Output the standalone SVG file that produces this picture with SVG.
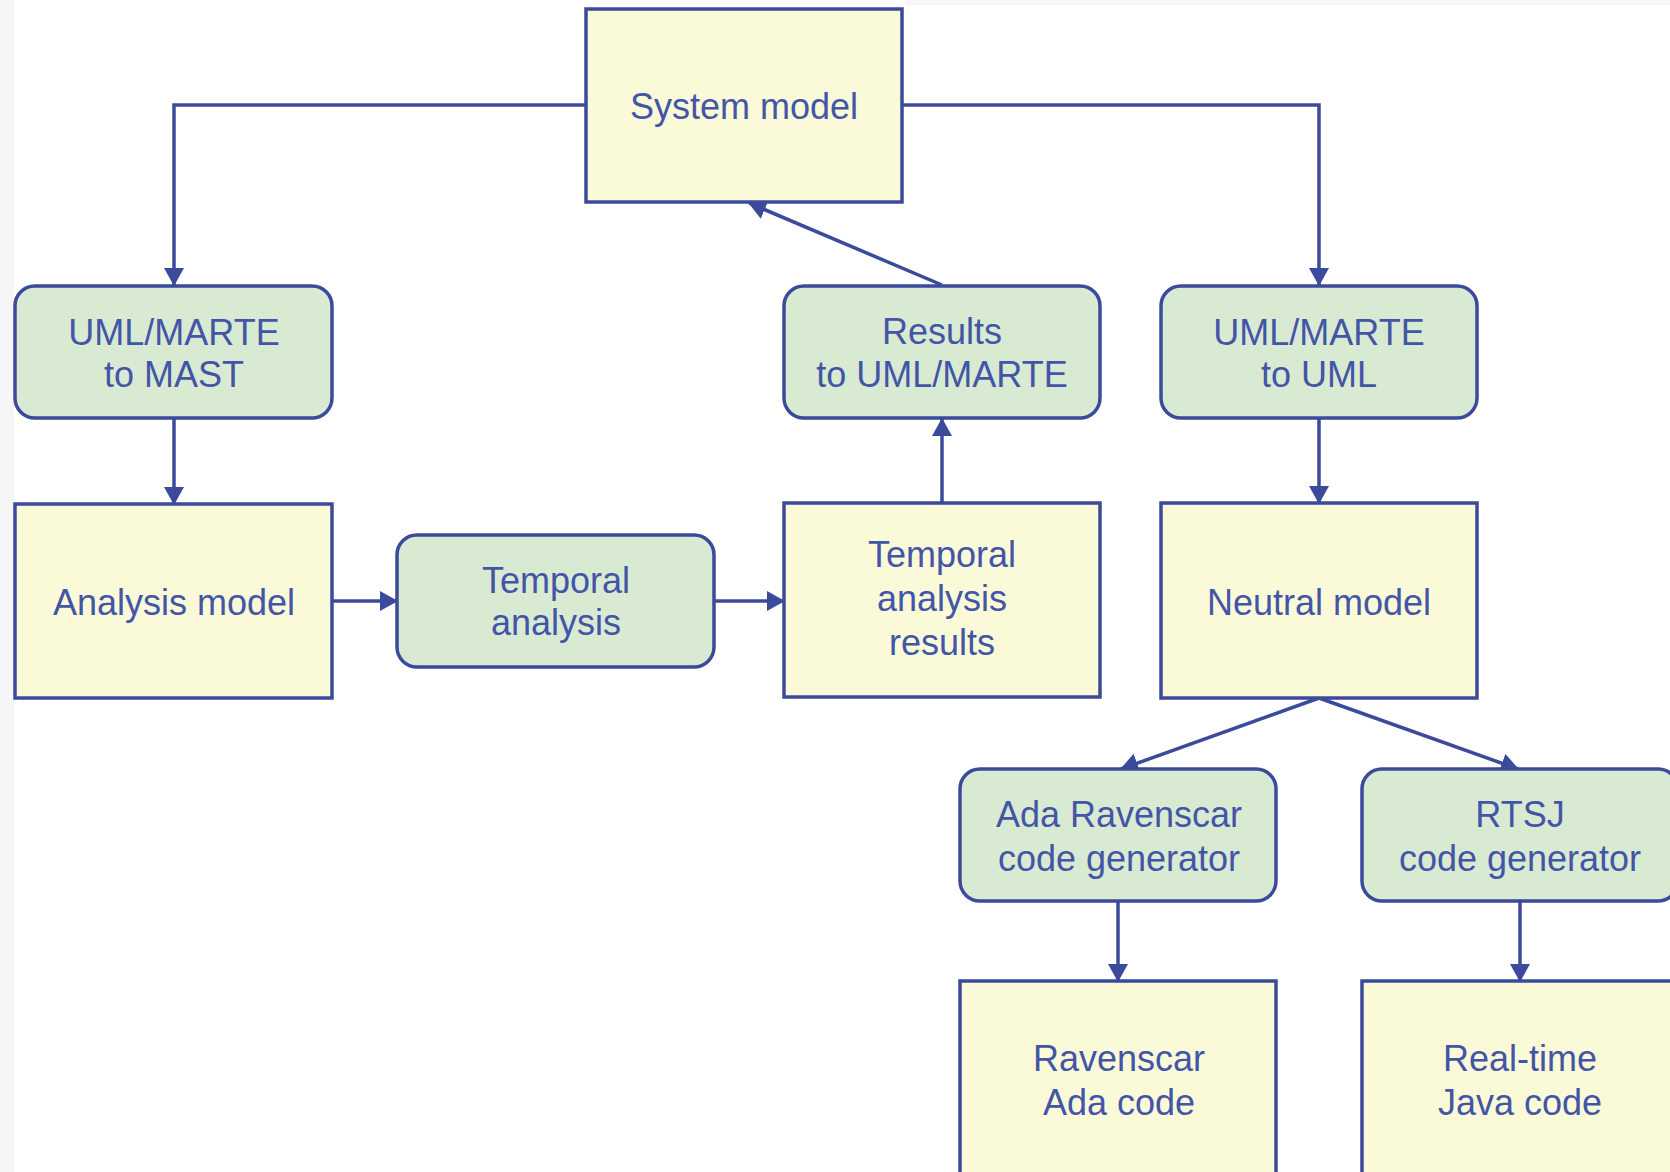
<svg xmlns="http://www.w3.org/2000/svg" width="1670" height="1172" viewBox="0 0 1670 1172">
<defs>
<style>
.box{fill:#fafad8;stroke:#3c4a9c;stroke-width:3.5}
.proc{fill:#d9ead2;stroke:#3c4a9c;stroke-width:3.5}
.lbl{font-family:"Liberation Sans",Arial,sans-serif;font-size:36px;fill:#4355a6;text-anchor:middle}
.con{fill:none;stroke:#3c4a9c;stroke-width:3.5;marker-end:url(#arr)}
</style>
<marker id="arr" markerUnits="userSpaceOnUse" markerWidth="20" markerHeight="22" refX="17" refY="10" orient="auto">
<path d="M0,0 L18,10 L0,20 z" fill="#3c4a9c"/>
</marker>
</defs>
<rect x="0" y="0" width="1670" height="1172" fill="#ffffff"/>
<rect x="0" y="0" width="14" height="1172" fill="#f6f6f6"/>
<rect x="905" y="0" width="765" height="5" fill="#f6f6f6"/>

<g id="connectors">
<path class="con" d="M586,105 H174 V285"/>
<path class="con" d="M174,419 V504"/>
<path class="con" d="M332,601 H397"/>
<path class="con" d="M715,601 H784"/>
<path class="con" d="M942,503 V419"/>
<path class="con" d="M942,285 L749,203"/>
<path class="con" d="M902,105 H1319 V285"/>
<path class="con" d="M1319,419 V503"/>
<path class="con" d="M1319,698 L1121,769"/>
<path class="con" d="M1319,698 L1518,769"/>
<path class="con" d="M1118,901 V981"/>
<path class="con" d="M1520,901 V981"/>
</g>

<g id="system-model">
<rect class="box" x="586" y="9" width="316" height="193"/>
<text class="lbl" x="744" y="119">System model</text>
</g>
<g id="uml-marte-to-mast">
<rect class="proc" x="15" y="286" width="317" height="132" rx="20"/>
<text class="lbl" x="174" y="345">UML/MARTE</text>
<text class="lbl" x="174" y="387">to MAST</text>
</g>
<g id="results-to-uml-marte">
<rect class="proc" x="784" y="286" width="316" height="132" rx="20"/>
<text class="lbl" x="942" y="344">Results</text>
<text class="lbl" x="942" y="387">to UML/MARTE</text>
</g>
<g id="uml-marte-to-uml">
<rect class="proc" x="1161" y="286" width="316" height="132" rx="20"/>
<text class="lbl" x="1319" y="345">UML/MARTE</text>
<text class="lbl" x="1319" y="387">to UML</text>
</g>
<g id="analysis-model">
<rect class="box" x="15" y="504" width="317" height="194"/>
<text class="lbl" x="174" y="615">Analysis model</text>
</g>
<g id="temporal-analysis">
<rect class="proc" x="397" y="535" width="317" height="132" rx="20"/>
<text class="lbl" x="556" y="593">Temporal</text>
<text class="lbl" x="556" y="635">analysis</text>
</g>
<g id="temporal-analysis-results">
<rect class="box" x="784" y="503" width="316" height="194"/>
<text class="lbl" x="942" y="567">Temporal</text>
<text class="lbl" x="942" y="611">analysis</text>
<text class="lbl" x="942" y="655">results</text>
</g>
<g id="neutral-model">
<rect class="box" x="1161" y="503" width="316" height="195"/>
<text class="lbl" x="1319" y="615">Neutral model</text>
</g>
<g id="ada-ravenscar-code-generator">
<rect class="proc" x="960" y="769" width="316" height="132" rx="20"/>
<text class="lbl" x="1119" y="827">Ada Ravenscar</text>
<text class="lbl" x="1119" y="871">code generator</text>
</g>
<g id="rtsj-code-generator">
<rect class="proc" x="1362" y="769" width="316" height="132" rx="20"/>
<text class="lbl" x="1520" y="827">RTSJ</text>
<text class="lbl" x="1520" y="871">code generator</text>
</g>
<g id="ravenscar-ada-code">
<rect class="box" x="960" y="981" width="316" height="200"/>
<text class="lbl" x="1119" y="1071">Ravenscar</text>
<text class="lbl" x="1119" y="1115">Ada code</text>
</g>
<g id="real-time-java-code">
<rect class="box" x="1362" y="981" width="316" height="200"/>
<text class="lbl" x="1520" y="1071">Real-time</text>
<text class="lbl" x="1520" y="1115">Java code</text>
</g>
</svg>
